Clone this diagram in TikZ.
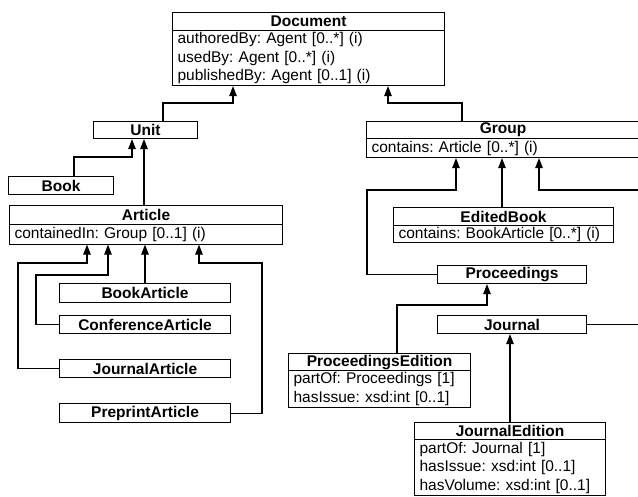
\documentclass[tikz,border=0pt]{standalone}
\usepackage{fontspec}
\setmainfont{Liberation Sans}
\usetikzlibrary{arrows.meta}
\frenchspacing
\begin{document}
\begin{tikzpicture}[x=1pt,y=-1pt,
  hdr/.style={draw, line width=1.1pt, font=\fontsize{15.5}{18.5}\selectfont\bfseries, inner sep=0pt, anchor=north west},
  attr/.style={draw, line width=1.1pt, font=\fontsize{15.5}{18.5}\selectfont, inner xsep=5pt, inner ysep=0pt, anchor=north west, align=left},
  conn/.style={line width=1.1pt, -{Triangle[length=10pt,width=7.5pt]}}]
\useasboundingbox (0,0) rectangle (638,496);
\clip (0,0) rectangle (638,496);
% classes
\node[hdr, minimum width=272pt, minimum height=18pt] (doc) at (172,12) {Document};
\node[attr, text width=262pt, minimum height=55pt] (doc-a) at (172,30) {authoredBy: Agent [0..*] (i)\\usedBy: Agent [0..*] (i)\\publishedBy: Agent [0..1] (i)};
\node[hdr, minimum width=104pt, minimum height=17pt] (unit) at (93,121) {Unit};
\node[hdr, minimum width=105pt, minimum height=18pt] (book) at (8,176) {Book};
\node[hdr, minimum width=273pt, minimum height=18.5pt] (art) at (9,205) {Article};
\node[attr, text width=263pt, minimum height=20pt] (art-a) at (9,223.5) {containedIn: Group [0..1] (i)};
\node[hdr, minimum width=171pt, minimum height=19pt] (bart) at (59,283) {BookArticle};
\node[hdr, minimum width=171pt, minimum height=18pt] (cart) at (59,315) {ConferenceArticle};
\node[hdr, minimum width=171pt, minimum height=18pt] (jart) at (59,359) {JournalArticle};
\node[hdr, minimum width=171pt, minimum height=19pt] (part) at (59,403) {PreprintArticle};
\node[hdr, minimum width=273pt, minimum height=17pt] (grp) at (366,121) {Group};
\node[attr, text width=263pt, minimum height=19pt] (grp-a) at (366,138) {contains: Article [0..*] (i)};
\node[hdr, minimum width=220pt, minimum height=18pt] (eb) at (393,207) {EditedBook};
\node[attr, text width=210pt, minimum height=17pt] (eb-a) at (393,225) {contains: BookArticle [0..*] (i)};
\node[hdr, minimum width=149pt, minimum height=18pt] (proc) at (437,265) {Proceedings};
\node[hdr, minimum width=149pt, minimum height=18pt] (jour) at (437,315) {Journal};
\node[hdr, minimum width=182pt, minimum height=17pt] (pe) at (288,353) {ProceedingsEdition};
\node[attr, text width=172pt, minimum height=37pt] (pe-a) at (288,370) {partOf: Proceedings [1]\\hasIssue: xsd:int [0..1]};
\node[hdr, minimum width=191pt, minimum height=17pt] (je) at (414,422) {JournalEdition};
\node[attr, text width=181pt, minimum height=56pt] (je-a) at (414,439) {partOf: Journal [1]\\hasIssue: xsd:int [0..1]\\hasVolume: xsd:int [0..1]};
% connectors
\draw[conn] (163,0 |- unit.north) |- (233,103) -- (233,0 |- doc-a.south);
\draw[conn] (462,0 |- grp.north) |- (388,103) -- (388,0 |- doc-a.south);
\draw[conn] (74,0 |- book.north) |- (132,157) -- (132,0 |- unit.south);
\draw[conn] (144,0 |- art.north) -- (144,0 |- unit.south);
\draw[conn] (jart.west) -| (18,263) -| (87,0 |- art-a.south);
\draw[conn] (cart.west) -| (36,275) -| (108,0 |- art-a.south);
\draw[conn] (145,0 |- bart.north) -- (145,0 |- art-a.south);
\draw[conn] (part.east) -| (262,263) -| (199,0 |- art-a.south);
\draw[conn] (proc.west) -| (367,190) -| (456,0 |- grp-a.south);
\draw[conn] (502,0 |- eb.north) -- (502,0 |- grp-a.south);
\draw[conn] (jour.east) -| (652,190) -| (539,0 |- grp-a.south);
\draw[conn] (397,0 |- pe.north) |- (487,305) -- (487,0 |- proc.south);
\draw[conn] (510,0 |- je.north) -- (510,0 |- jour.south);
\end{tikzpicture}
\end{document}
